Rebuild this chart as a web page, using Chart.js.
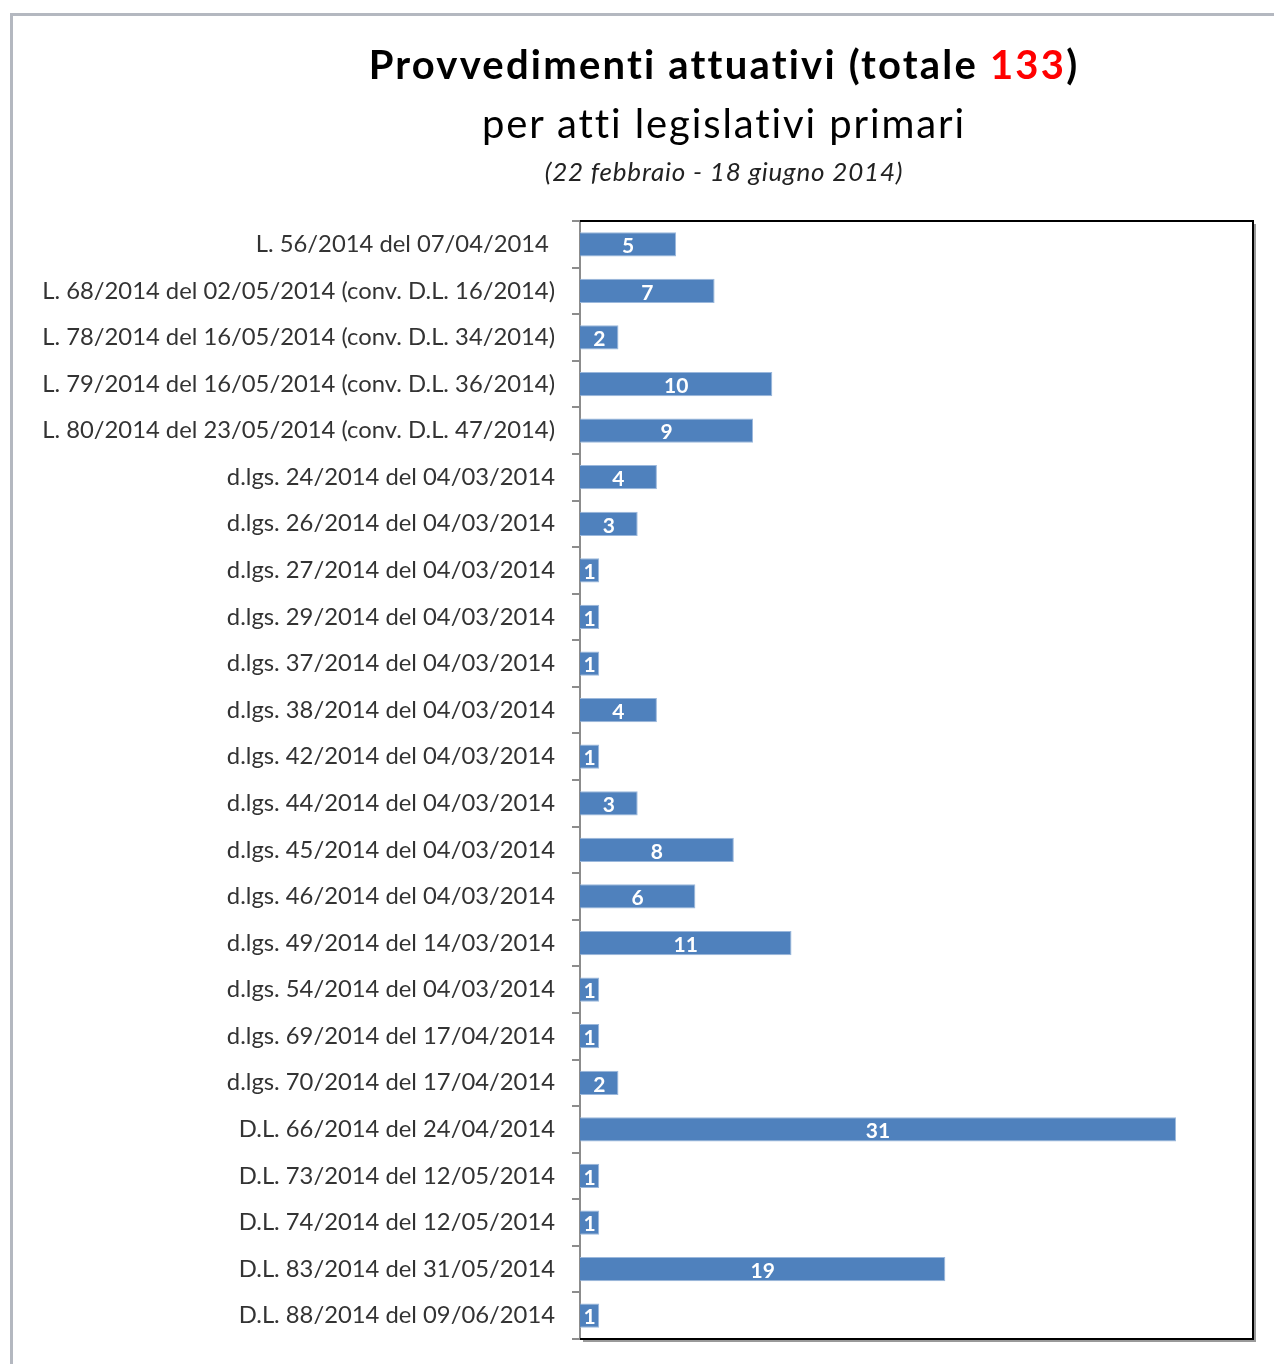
<!DOCTYPE html>
<html>
<head>
<meta charset="utf-8">
<script src="https://cdn.jsdelivr.net/npm/chart.js@4/dist/chart.umd.min.js"></script>
<style>
  body { margin: 0; background: #fff; overflow: hidden; }
  #wrap { position: relative; width: 1274px; height: 1364px; }
  #chartAtti { position: absolute; left: 0; top: 0; }
  #frame { position: absolute; left: 10px; top: 13px; width: 1264px; height: 1351px;
           border-top: 3px solid #b4b8c0; border-left: 3px solid #b4b8c0; box-sizing: border-box; }
  .t { position: absolute; left: 0; width: 1448px; text-align: center; font-family: Lato, sans-serif; color: #000; white-space: nowrap; }
  #t1 { top: 40px; font-size: 40px; font-weight: bold; letter-spacing: 2.2px; }
  #t1 span { color: #ff0000; }
  #t2 { top: 99px; font-size: 40px; letter-spacing: 1.9px; }
  #t3 { top: 155px; font-size: 26px; font-style: italic; color: #222; letter-spacing: 0.8px; }
</style>
</head>
<body>
<div id="wrap">
  <div id="frame"></div>
  <canvas id="chartAtti" width="1274" height="1364"></canvas>
  <div class="t" id="t1">Provvedimenti attuativi (totale <span>133</span>)</div>
  <div class="t" id="t2">per atti legislativi primari</div>
  <div class="t" id="t3">(22 febbraio - 18 giugno 2014)</div>
</div>
<script>
const labels = [
  "L. 56/2014 del 07/04/2014 ",
  "L. 68/2014 del 02/05/2014 (conv. D.L. 16/2014)",
  "L. 78/2014 del 16/05/2014 (conv. D.L. 34/2014)",
  "L. 79/2014 del 16/05/2014 (conv. D.L. 36/2014)",
  "L. 80/2014 del 23/05/2014 (conv. D.L. 47/2014)",
  "d.lgs. 24/2014 del 04/03/2014",
  "d.lgs. 26/2014 del 04/03/2014",
  "d.lgs. 27/2014 del 04/03/2014",
  "d.lgs. 29/2014 del 04/03/2014",
  "d.lgs. 37/2014 del 04/03/2014",
  "d.lgs. 38/2014 del 04/03/2014",
  "d.lgs. 42/2014 del 04/03/2014",
  "d.lgs. 44/2014 del 04/03/2014",
  "d.lgs. 45/2014 del 04/03/2014",
  "d.lgs. 46/2014 del 04/03/2014",
  "d.lgs. 49/2014 del 14/03/2014",
  "d.lgs. 54/2014 del 04/03/2014",
  "d.lgs. 69/2014 del 17/04/2014",
  "d.lgs. 70/2014 del 17/04/2014",
  "D.L. 66/2014 del 24/04/2014",
  "D.L. 73/2014 del 12/05/2014",
  "D.L. 74/2014 del 12/05/2014",
  "D.L. 83/2014 del 31/05/2014",
  "D.L. 88/2014 del 09/06/2014"
];

const provvedimenti = [5, 7, 2, 10, 9, 4, 3, 1, 1, 1, 4, 1, 3, 8, 6, 11, 1, 1, 2, 31, 1, 1, 19, 1];

// white value inside each bar
const barLabels = {
  id: "barLabels",
  afterDatasetsDraw(chart) {
    const ctx = chart.ctx;
    const meta = chart.getDatasetMeta(0);
    ctx.save();
    ctx.fillStyle = "#fff";
    ctx.font = "bold 21px Lato, sans-serif";
    ctx.textAlign = "center";
    ctx.textBaseline = "middle";
    meta.data.forEach((bar, i) => {
      const cx = (bar.x + bar.base) / 2;
      ctx.fillText(provvedimenti[i], cx, bar.y + 2);
    });
    ctx.restore();
  }
};

// black frame round the plot area with a light shadow
const plotFrame = {
  id: "plotFrame",
  afterDraw(chart) {
    const a = chart.chartArea;
    const ctx = chart.ctx;
    ctx.save();
    ctx.strokeStyle = "#9a9a9a";
    ctx.lineWidth = 2;
    ctx.beginPath();
    ctx.moveTo(a.right + 2, a.top + 3);
    ctx.lineTo(a.right + 2, a.bottom + 2);
    ctx.lineTo(a.left + 3, a.bottom + 2);
    ctx.stroke();
    ctx.strokeStyle = "#000";
    ctx.lineWidth = 2;
    ctx.beginPath();
    ctx.moveTo(a.left, a.top);
    ctx.lineTo(a.right, a.top);
    ctx.lineTo(a.right, a.bottom);
    ctx.lineTo(a.left, a.bottom);
    ctx.stroke();
    ctx.restore();
  }
};

const data = {
  labels: labels,
  datasets: [
    {
      data: provvedimenti,
      backgroundColor: "#4f81bd",
      borderColor: "#9bb8dc",
      borderWidth: 1,
      barPercentage: 0.52,
      categoryPercentage: 1
    }
  ]
};

const config = {
  type: "bar",
  data: data,
  plugins: [barLabels, plotFrame],
  options: {
    indexAxis: "y",
    responsive: false,
    animation: false,
    layout: { padding: { top: 221, right: 21, bottom: 25, left: 0 } },
    plugins: {
      legend: { display: false },
      tooltip: { enabled: false }
    },
    scales: {
      x: { display: false, min: 0, max: 35 },
      y: {
        afterFit: (s) => { s.width = 580; s.paddingTop = 0; s.paddingBottom = 0; },
        border: { display: true, color: "#8c8c8c", width: 2 },
        grid: { drawOnChartArea: false, drawTicks: true, tickLength: 8, color: "#8c8c8c", lineWidth: 2, offset: true },
        ticks: { padding: 17, color: "#333", font: { family: "Lato, sans-serif", size: 23.8 } }
      }
    }
  }
};

const myChart = new Chart(document.getElementById("chartAtti"), config);
</script>
</body>
</html>
